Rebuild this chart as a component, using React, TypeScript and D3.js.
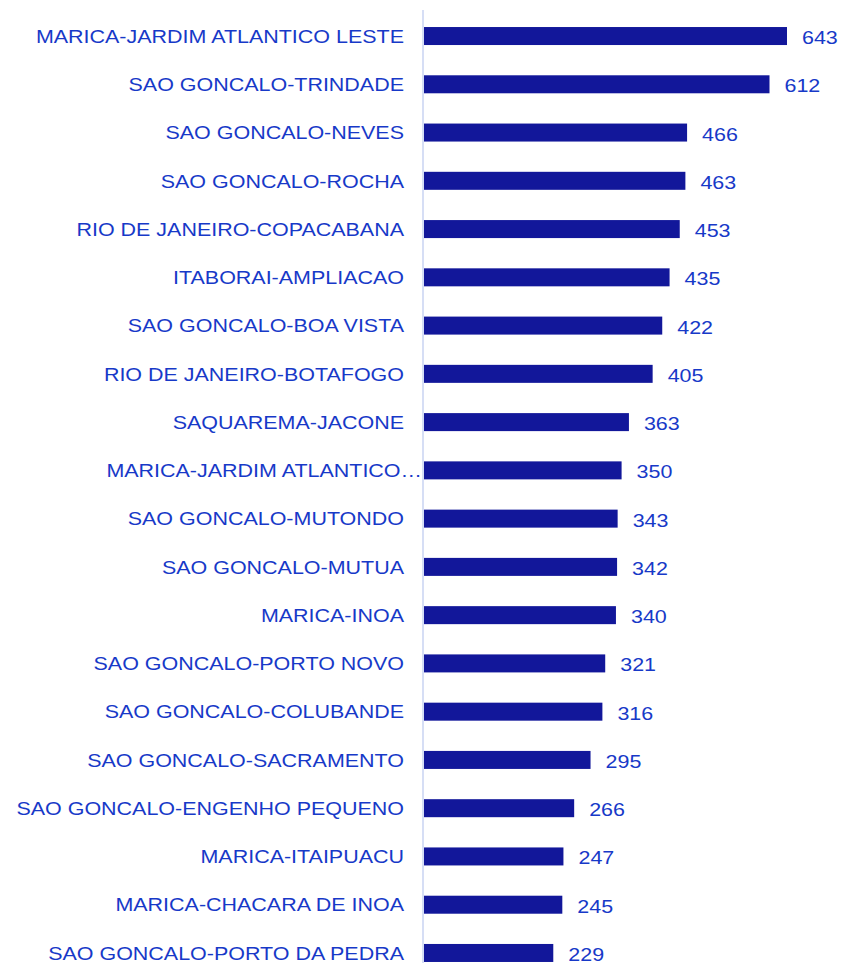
import React from "react";
import * as d3 from "d3";

const categories = [
  "MARICA-JARDIM ATLANTICO LESTE",
  "SAO GONCALO-TRINDADE",
  "SAO GONCALO-NEVES",
  "SAO GONCALO-ROCHA",
  "RIO DE JANEIRO-COPACABANA",
  "ITABORAI-AMPLIACAO",
  "SAO GONCALO-BOA VISTA",
  "RIO DE JANEIRO-BOTAFOGO",
  "SAQUAREMA-JACONE",
  "MARICA-JARDIM ATLANTICO…",
  "SAO GONCALO-MUTONDO",
  "SAO GONCALO-MUTUA",
  "MARICA-INOA",
  "SAO GONCALO-PORTO NOVO",
  "SAO GONCALO-COLUBANDE",
  "SAO GONCALO-SACRAMENTO",
  "SAO GONCALO-ENGENHO PEQUENO",
  "MARICA-ITAIPUACU",
  "MARICA-CHACARA DE INOA",
  "SAO GONCALO-PORTO DA PEDRA",
];

const values = [643, 612, 466, 463, 453, 435, 422, 405, 363, 350, 343, 342, 340, 321, 316, 295, 266, 247, 245, 229];

const W = 843;
const H = 963;
const BAR_COLOR = "#12179a";
const TEXT_COLOR = "#1739c8";
const AXIS_COLOR = "#c9d3f2";
const FONT = "'Liberation Sans', Arial, sans-serif";
const FS = 19;
const SX = 1.13;

export default function App() {
  const x = d3.scaleLinear().domain([0, 643]).range([424, 787]);
  const y = d3
    .scaleBand<string>()
    .domain(categories)
    .range([27 - 15.1, 962 + 15.1])
    .paddingInner(0.627)
    .paddingOuter(0.3135);
  const bw = y.bandwidth();

  return (
    <svg
      width={W}
      height={H}
      style={{ position: "absolute", left: 0, top: 0, background: "#fff" }}
      fontFamily={FONT}
    >
      <line x1={423} x2={423} y1={10} y2={H} stroke={AXIS_COLOR} strokeWidth={1.5} />
      {categories.map((c, i) => {
        const yy = y(c) as number;
        const cy = yy + bw / 2;
        const truncated = c.endsWith("…");
        const lx = truncated ? 422 : 404;
        const v = values[i];
        return (
          <g key={c}>
            <rect x={x(0)} y={yy} width={x(v) - x(0)} height={bw} fill={BAR_COLOR} />
            <text
              transform={`translate(${lx},${cy + 6.7}) scale(${SX},1)`}
              textAnchor="end"
              fontSize={FS}
              fill={TEXT_COLOR}
            >
              {c}
            </text>
            <text
              transform={`translate(${x(v) + 15},${cy + 8}) scale(${SX},1)`}
              textAnchor="start"
              fontSize={FS}
              fill={TEXT_COLOR}
            >
              {v}
            </text>
          </g>
        );
      })}
    </svg>
  );
}
